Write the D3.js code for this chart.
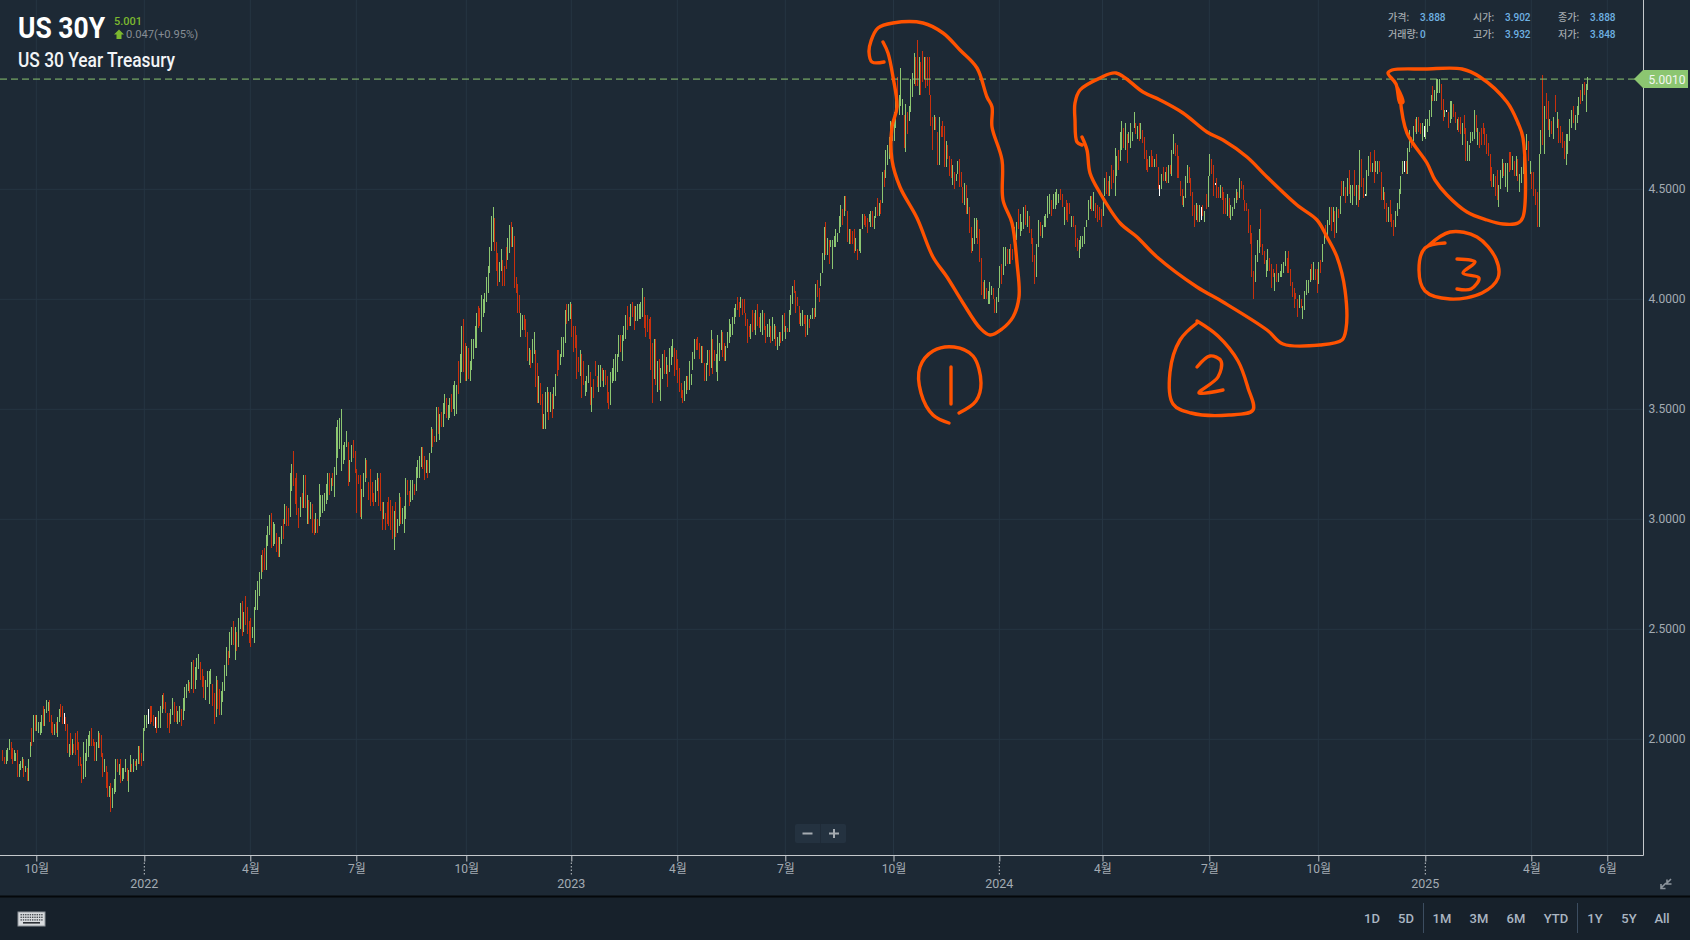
<!DOCTYPE html>
<html><head><meta charset="utf-8">
<style>
html,body{margin:0;padding:0;background:#1d2935;overflow:hidden}
svg{display:block}
text{font-family:Roboto,"Noto Sans CJK KR",sans-serif}
</style>
<script src="https://cdn.jsdelivr.net/npm/d3@7"></script>
</head><body><svg id="c" width="1690" height="940"></svg>
<script>
// each bar: [high, low, kind]  kind 1 = up, 0 = down, 2 = doji
const q3_2021=[[1.95,1.90,0],[1.92,1.89,0],[1.95,1.89,1],[1.96,1.90,1],[2.00,1.95,1],[1.99,1.91,0],[1.96,1.89,0],[1.95,1.90,1],[1.94,1.90,1],[1.95,1.83,0],[1.89,1.83,1],[1.90,1.86,1],[1.92,1.87,1],[1.91,1.83,0],[1.88,1.85,1],[1.87,1.81,0],[1.91,1.81,1],[1.99,1.92,1],[2.05,1.97,0],[2.11,1.99,1],[2.11,2.04,0]];
const q4_2021=[[2.11,2.04,1],[2.08,2.03,1],[2.08,2.02,1],[2.11,2.03,1],[2.15,2.06,0],[2.14,2.06,1],[2.18,2.12,1],[2.17,2.13,1],[2.18,2.08,0],[2.11,2.03,0],[2.08,2.02,0],[2.07,2.02,1],[2.08,2.03,0],[2.10,2.01,1],[2.14,2.08,1],[2.16,2.10,0],[2.15,2.07,0],[2.12,2.07,2],[2.10,2.04,0],[2.07,1.94,0],[1.98,1.92,1],[2.03,1.93,0],[2.00,1.93,1],[1.98,1.94,0],[2.03,1.93,0],[2.04,1.95,0],[1.99,1.88,0],[1.92,1.88,0],[1.89,1.80,0],[1.99,1.82,1],[1.94,1.83,1],[2.00,1.90,1],[2.02,1.92,1],[2.04,1.97,1],[2.05,1.97,0],[2.00,1.97,0],[1.99,1.90,0],[1.99,1.90,1],[2.04,1.96,1],[2.03,1.96,0],[2.02,1.92,0],[1.94,1.83,0],[1.91,1.85,1],[1.88,1.78,0],[1.85,1.74,0],[1.79,1.74,1],[1.80,1.67,0],[1.78,1.69,1],[1.82,1.75,1],[1.91,1.76,1],[1.91,1.85,0],[1.89,1.84,1],[1.91,1.80,0],[1.87,1.81,1],[1.87,1.82,1],[1.91,1.85,1],[1.87,1.81,0],[1.86,1.76,1],[1.93,1.85,1],[1.89,1.85,0],[1.91,1.85,1],[1.90,1.88,0],[1.91,1.86,1],[1.97,1.89,1],[1.97,1.89,0],[1.94,1.88,0],[2.05,1.90,1]];
const q1_2022=[[2.11,2.04,1],[2.11,2.05,1],[2.14,2.07,2],[2.15,2.07,0],[2.15,2.08,0],[2.11,2.06,0],[2.10,2.05,2],[2.10,2.03,0],[2.13,2.05,1],[2.15,2.05,1],[2.20,2.12,1],[2.21,2.14,0],[2.17,2.12,0],[2.12,2.05,0],[2.12,2.03,0],[2.14,2.07,1],[2.19,2.11,1],[2.17,2.08,0],[2.15,2.08,0],[2.13,2.07,1],[2.15,2.08,1],[2.14,2.06,0],[2.19,2.09,1],[2.24,2.13,1],[2.25,2.19,1],[2.27,2.22,1],[2.26,2.21,0],[2.35,2.23,1],[2.36,2.21,0],[2.33,2.23,1],[2.37,2.27,1],[2.39,2.32,1],[2.35,2.27,0],[2.32,2.24,0],[2.29,2.19,0],[2.27,2.18,1],[2.31,2.24,1],[2.31,2.16,1],[2.32,2.25,1],[2.25,2.15,0],[2.21,2.07,0],[2.29,2.10,1],[2.27,2.14,0],[2.23,2.11,0],[2.22,2.11,1],[2.26,2.17,1],[2.34,2.22,1],[2.42,2.29,1],[2.40,2.34,0],[2.49,2.37,1],[2.51,2.43,1],[2.54,2.43,0],[2.51,2.36,1],[2.49,2.40,0],[2.55,2.42,1],[2.62,2.50,1],[2.63,2.47,0],[2.58,2.49,1],[2.65,2.52,0],[2.60,2.48,0],[2.54,2.44,0]];
const q2_2022=[[2.55,2.42,0],[2.51,2.46,1],[2.60,2.44,1],[2.68,2.59,1],[2.72,2.59,1],[2.76,2.65,1],[2.84,2.73,1],[2.86,2.76,0],[2.87,2.77,0],[2.93,2.77,1],[2.97,2.88,1],[3.02,2.93,1],[3.03,2.87,0],[2.99,2.88,1],[2.98,2.89,1],[2.94,2.85,0],[2.92,2.83,0],[2.92,2.83,1],[2.97,2.89,1],[3.00,2.91,0],[3.07,2.98,1],[3.06,2.97,0],[3.05,2.97,0],[3.21,3.01,1],[3.25,3.13,1],[3.31,3.15,0],[3.19,3.07,0],[3.21,3.02,0],[3.05,2.96,0],[3.10,3.01,1],[3.12,3.05,0],[3.20,3.05,1],[3.20,3.05,0],[3.11,2.98,1],[3.09,2.98,0],[3.08,3.00,1],[3.07,2.94,0],[3.00,2.93,0],[3.03,2.94,1],[3.00,2.94,0],[3.16,2.97,1],[3.11,3.01,1],[3.11,3.03,1],[3.12,3.04,1],[3.16,3.07,1],[3.21,3.09,1],[3.21,3.11,0],[3.19,3.13,1],[3.21,3.15,0],[3.24,3.10,1],[3.42,3.20,1],[3.45,3.28,1],[3.46,3.32,1],[3.50,3.22,1],[3.34,3.25,1],[3.35,3.27,1],[3.40,3.33,1],[3.35,3.15,0],[3.27,3.17,1],[3.34,3.26,1],[3.36,3.28,0],[3.31,3.21,0]];
const q3_2022=[[3.23,3.03,0],[3.20,3.16,0],[3.20,3.01,0],[3.14,3.00,1],[3.21,3.10,1],[3.28,3.17,1],[3.27,3.19,0],[3.17,3.09,0],[3.23,3.06,0],[3.17,3.08,0],[3.12,3.06,0],[3.18,3.08,1],[3.21,3.13,1],[3.19,3.06,0],[3.21,3.04,0],[3.08,2.95,0],[3.08,3.00,1],[3.03,2.95,0],[3.08,2.98,0],[3.10,2.97,0],[3.09,2.95,0],[3.06,2.91,0],[3.04,2.86,1],[3.08,2.92,0],[3.00,2.94,1],[3.12,2.97,1],[3.10,2.98,0],[3.05,2.98,1],[3.06,2.94,1],[3.19,3.00,1],[3.18,3.11,0],[3.13,3.06,0],[3.18,3.08,1],[3.18,3.09,1],[3.16,3.11,0],[3.24,3.13,1],[3.27,3.19,1],[3.29,3.19,1],[3.33,3.24,1],[3.33,3.23,0],[3.29,3.18,0],[3.27,3.21,1],[3.27,3.19,0],[3.30,3.21,1],[3.42,3.30,1],[3.41,3.33,0],[3.38,3.35,0],[3.51,3.35,1],[3.51,3.39,0],[3.48,3.36,1],[3.49,3.42,0],[3.53,3.42,1],[3.57,3.48,1],[3.55,3.46,0],[3.52,3.45,1],[3.55,3.46,1],[3.57,3.49,0],[3.61,3.50,1],[3.63,3.47,1],[3.61,3.48,1],[3.72,3.57,0],[3.75,3.62,1],[3.88,3.67,1],[3.91,3.67,0],[3.80,3.63,0]];
const q4_2022=[[3.79,3.63,1],[3.78,3.64,0],[3.72,3.63,1],[3.82,3.68,1],[3.82,3.73,1],[3.88,3.78,1],[3.94,3.78,1],[3.97,3.87,0],[3.96,3.88,0],[4.02,3.85,1],[4.00,3.92,1],[4.03,3.94,1],[4.10,3.99,1],[4.15,4.03,1],[4.24,4.12,1],[4.38,4.22,1],[4.42,4.26,1],[4.37,4.22,0],[4.26,4.13,0],[4.21,4.06,0],[4.17,4.08,1],[4.23,4.13,1],[4.18,4.06,0],[4.15,4.06,0],[4.24,4.14,0],[4.28,4.18,1],[4.34,4.21,1],[4.35,4.24,0],[4.33,4.24,1],[4.29,4.05,0],[4.10,4.03,0],[4.07,3.94,0],[4.02,3.94,0],[3.94,3.83,1],[3.93,3.86,1],[3.93,3.86,0],[3.91,3.83,0],[3.85,3.72,0],[3.78,3.70,1],[3.77,3.69,0],[3.82,3.71,1],[3.85,3.75,1],[3.77,3.60,0],[3.71,3.53,0],[3.65,3.53,1],[3.62,3.52,0],[3.57,3.41,0],[3.48,3.41,1],[3.58,3.41,1],[3.60,3.49,1],[3.58,3.45,0],[3.58,3.49,1],[3.57,3.46,0],[3.60,3.50,1],[3.66,3.56,1],[3.77,3.65,0],[3.77,3.68,0],[3.75,3.70,1],[3.83,3.74,1],[3.83,3.74,1],[3.95,3.80,1],[3.98,3.89,0],[3.98,3.90,1],[3.99,3.91,1]];
const q1_2023=[[3.98,3.83,0],[3.88,3.76,0],[3.88,3.78,0],[3.84,3.64,0],[3.74,3.67,0],[3.77,3.65,1],[3.75,3.55,0],[3.72,3.61,0],[3.63,3.56,1],[3.65,3.58,1],[3.70,3.62,1],[3.67,3.52,0],[3.60,3.49,1],[3.64,3.55,0],[3.72,3.65,0],[3.65,3.60,0],[3.70,3.58,1],[3.70,3.60,1],[3.69,3.63,0],[3.68,3.60,1],[3.68,3.61,0],[3.65,3.53,0],[3.58,3.50,0],[3.67,3.52,1],[3.69,3.62,1],[3.73,3.63,1],[3.75,3.63,1],[3.75,3.67,1],[3.84,3.74,1],[3.84,3.76,0],[3.84,3.72,1],[3.88,3.81,1],[3.93,3.82,1],[3.97,3.86,0],[3.92,3.88,0],[3.98,3.88,1],[3.99,3.92,0],[3.97,3.86,0],[3.97,3.90,1],[3.98,3.90,1],[3.98,3.91,1],[3.99,3.91,1],[4.05,3.92,1],[4.01,3.87,0],[3.93,3.83,0],[3.93,3.85,0],[3.91,3.82,0],[3.92,3.68,0],[3.80,3.53,0],[3.82,3.64,1],[3.82,3.61,0],[3.72,3.58,1],[3.73,3.59,0],[3.69,3.54,1],[3.75,3.64,1],[3.77,3.66,0],[3.74,3.66,1],[3.70,3.60,0],[3.78,3.67,1],[3.79,3.70,1],[3.82,3.74,1],[3.78,3.65,0],[3.77,3.68,0]];
const q2_2023=[[3.73,3.62,0],[3.69,3.58,0],[3.62,3.55,0],[3.59,3.53,0],[3.63,3.54,1],[3.65,3.57,1],[3.65,3.59,0],[3.72,3.59,1],[3.66,3.61,1],[3.76,3.68,1],[3.82,3.73,1],[3.82,3.77,0],[3.83,3.77,0],[3.80,3.73,0],[3.79,3.71,1],[3.79,3.71,0],[3.71,3.63,0],[3.71,3.63,1],[3.77,3.70,1],[3.77,3.65,0],[3.86,3.69,1],[3.82,3.66,0],[3.77,3.72,0],[3.75,3.67,1],[3.84,3.63,1],[3.80,3.72,1],[3.86,3.77,1],[3.85,3.74,0],[3.80,3.72,0],[3.79,3.72,1],[3.85,3.78,1],[3.91,3.80,1],[3.89,3.83,1],[3.92,3.84,1],[3.96,3.89,1],[3.98,3.92,1],[4.01,3.95,0],[3.99,3.92,0],[4.01,3.96,1],[4.00,3.93,0],[4.00,3.94,0],[3.94,3.88,0],[3.91,3.80,0],[3.88,3.83,0],[3.89,3.82,1],[3.95,3.85,0],[3.94,3.86,0],[3.95,3.84,1],[3.98,3.88,0],[3.92,3.87,0],[3.94,3.85,1],[3.95,3.84,1],[3.94,3.86,0],[3.88,3.80,0],[3.89,3.83,1],[3.91,3.83,1],[3.88,3.80,0],[3.92,3.81,1],[3.89,3.82,1],[3.88,3.79,0],[3.83,3.77,1],[3.85,3.79,1],[3.85,3.80,0],[3.93,3.81,1],[3.94,3.85,0]];
const q3_2023=[[3.88,3.82,1],[3.87,3.85,0],[3.95,3.85,1],[4.02,3.93,1],[4.06,3.98,1],[4.09,4.03,0],[4.04,3.94,0],[4.01,3.97,0],[3.97,3.89,0],[3.94,3.88,1],[3.95,3.88,1],[3.93,3.89,0],[3.93,3.83,0],[3.93,3.84,1],[3.91,3.87,0],[3.93,3.91,1],[3.96,3.91,1],[3.96,3.91,0],[4.07,3.92,1],[4.09,4.01,0],[4.05,3.99,0],[4.12,4.06,1],[4.21,4.12,1],[4.33,4.18,1],[4.35,4.20,0],[4.28,4.20,1],[4.27,4.16,0],[4.27,4.24,1],[4.27,4.14,1],[4.29,4.24,1],[4.32,4.24,1],[4.30,4.26,1],[4.38,4.30,1],[4.43,4.33,1],[4.41,4.34,0],[4.47,4.38,1],[4.47,4.40,0],[4.40,4.26,0],[4.32,4.25,1],[4.32,4.25,0],[4.31,4.25,0],[4.32,4.21,0],[4.28,4.22,1],[4.23,4.18,0],[4.32,4.22,1],[4.32,4.21,1],[4.39,4.32,1],[4.39,4.34,0],[4.38,4.33,0],[4.37,4.30,0],[4.39,4.35,1],[4.40,4.33,1],[4.40,4.33,0],[4.38,4.32,1],[4.42,4.37,1],[4.46,4.38,0],[4.44,4.38,1],[4.45,4.39,0],[4.58,4.44,1],[4.59,4.51,0],[4.68,4.55,1],[4.70,4.61,1],[4.74,4.64,1],[4.81,4.70,1],[4.80,4.72,1]];
const q4_2023=[[4.85,4.72,1],[4.95,4.78,1],[5.01,4.90,0],[4.93,4.84,1],[5.05,4.88,1],[4.91,4.84,1],[4.84,4.69,0],[4.89,4.67,1],[4.85,4.75,0],[4.88,4.81,1],[5.00,4.85,1],[5.03,4.92,1],[5.12,4.98,1],[5.10,4.97,0],[5.18,4.97,0],[5.10,4.93,1],[5.08,4.93,0],[5.13,4.99,0],[5.10,5.00,1],[5.10,4.96,0],[5.10,4.97,0],[5.10,4.93,0],[4.93,4.79,0],[4.83,4.68,0],[4.84,4.77,1],[4.83,4.77,0],[4.76,4.61,0],[4.83,4.61,1],[4.79,4.74,0],[4.81,4.74,0],[4.79,4.60,0],[4.72,4.60,1],[4.70,4.64,0],[4.65,4.56,0],[4.64,4.55,0],[4.61,4.52,1],[4.58,4.50,0],[4.57,4.54,1],[4.63,4.57,1],[4.64,4.51,0],[4.58,4.51,0],[4.51,4.44,0],[4.53,4.43,1],[4.52,4.39,0],[4.46,4.39,1],[4.42,4.30,0],[4.33,4.21,0],[4.28,4.22,1],[4.37,4.25,1],[4.37,4.28,1],[4.36,4.25,0],[4.32,4.17,0],[4.19,4.02,0],[4.08,4.00,0],[4.09,4.00,1],[4.05,4.00,0],[4.04,3.98,1],[4.08,3.98,1],[4.06,4.02,1],[4.05,4.00,0],[4.00,3.94,0],[4.01,3.94,1],[4.05,3.99,1]];
const q1_2024=[[4.15,4.05,1],[4.16,4.07,0],[4.24,4.11,1],[4.24,4.15,1],[4.23,4.16,0],[4.23,4.16,1],[4.25,4.16,0],[4.23,4.18,0],[4.33,4.27,1],[4.35,4.27,1],[4.41,4.32,0],[4.39,4.29,1],[4.35,4.31,1],[4.42,4.32,1],[4.43,4.34,0],[4.40,4.33,1],[4.38,4.30,0],[4.32,4.25,0],[4.28,4.17,0],[4.20,4.07,0],[4.25,4.10,1],[4.36,4.24,1],[4.35,4.29,0],[4.34,4.28,1],[4.38,4.33,1],[4.39,4.33,1],[4.47,4.37,1],[4.48,4.39,1],[4.45,4.38,0],[4.48,4.41,1],[4.49,4.41,1],[4.50,4.43,1],[4.48,4.44,1],[4.50,4.45,0],[4.48,4.42,0],[4.42,4.34,1],[4.45,4.36,0],[4.44,4.35,0],[4.44,4.39,0],[4.38,4.33,1],[4.38,4.33,0],[4.34,4.24,0],[4.28,4.22,0],[4.27,4.19,1],[4.29,4.23,1],[4.29,4.24,1],[4.33,4.25,1],[4.36,4.33,1],[4.45,4.36,1],[4.47,4.41,1],[4.47,4.40,0],[4.49,4.40,1],[4.44,4.37,0],[4.43,4.35,0],[4.42,4.36,0],[4.41,4.33,0]];
const q2_2024=[[4.47,4.38,1],[4.55,4.47,1],[4.58,4.48,0],[4.54,4.47,0],[4.56,4.47,1],[4.61,4.50,0],[4.59,4.53,0],[4.69,4.47,1],[4.65,4.56,1],[4.68,4.59,0],[4.76,4.63,1],[4.81,4.68,1],[4.78,4.69,0],[4.80,4.68,1],[4.75,4.62,0],[4.76,4.71,1],[4.80,4.69,1],[4.76,4.72,1],[4.85,4.78,1],[4.80,4.75,0],[4.79,4.73,1],[4.80,4.72,0],[4.80,4.73,1],[4.77,4.71,0],[4.74,4.64,0],[4.68,4.59,0],[4.64,4.58,0],[4.65,4.60,1],[4.68,4.60,0],[4.65,4.60,0],[4.64,4.60,1],[4.66,4.60,0],[4.60,4.50,0],[4.52,4.47,2],[4.57,4.50,1],[4.60,4.54,0],[4.58,4.54,1],[4.60,4.53,0],[4.61,4.53,1],[4.61,4.57,0],[4.68,4.56,1],[4.75,4.66,1],[4.71,4.65,0],[4.70,4.55,0],[4.65,4.55,0],[4.54,4.47,0],[4.50,4.43,0],[4.47,4.42,1],[4.56,4.46,1],[4.61,4.53,1],[4.60,4.53,0],[4.55,4.47,0],[4.49,4.38,0],[4.43,4.33,0],[4.44,4.36,1],[4.43,4.35,0],[4.43,4.35,1],[4.42,4.36,2],[4.43,4.38,0],[4.40,4.35,1],[4.48,4.41,0],[4.56,4.42,1]];
const q3_2024=[[4.66,4.56,1],[4.64,4.57,0],[4.61,4.47,0],[4.53,4.52,2],[4.55,4.46,0],[4.51,4.46,0],[4.52,4.46,1],[4.51,4.45,0],[4.49,4.39,0],[4.46,4.39,0],[4.48,4.38,1],[4.46,4.37,0],[4.43,4.36,1],[4.42,4.38,1],[4.46,4.41,1],[4.50,4.44,1],[4.49,4.45,0],[4.55,4.46,1],[4.54,4.50,0],[4.52,4.45,0],[4.45,4.40,0],[4.44,4.40,0],[4.41,4.30,0],[4.34,4.25,0],[4.30,4.10,0],[4.13,4.00,0],[4.20,4.08,1],[4.27,4.17,1],[4.32,4.21,1],[4.41,4.24,0],[4.25,4.20,0],[4.22,4.16,0],[4.18,4.10,1],[4.23,4.13,1],[4.19,4.13,0],[4.16,4.05,0],[4.14,4.10,0],[4.12,4.04,1],[4.16,4.08,0],[4.12,4.08,1],[4.13,4.10,1],[4.16,4.10,1],[4.17,4.12,1],[4.22,4.15,1],[4.19,4.12,0],[4.22,4.12,0],[4.14,4.06,0],[4.08,4.01,0],[4.05,3.96,0],[4.03,4.00,0],[4.00,3.92,0],[4.02,3.96,1],[4.00,3.96,0],[3.97,3.91,1],[4.04,3.95,1],[4.09,4.02,1],[4.09,4.03,1],[4.14,4.08,1],[4.16,4.09,0],[4.17,4.09,1],[4.14,4.09,0],[4.14,4.03,0]];
const q4_2024=[[4.17,4.07,1],[4.18,4.12,0],[4.25,4.17,1],[4.31,4.25,1],[4.34,4.28,0],[4.36,4.29,1],[4.42,4.34,1],[4.42,4.31,0],[4.42,4.35,1],[4.40,4.28,0],[4.42,4.30,1],[4.41,4.37,0],[4.47,4.39,1],[4.54,4.47,0],[4.54,4.47,1],[4.51,4.44,0],[4.55,4.47,1],[4.59,4.48,0],[4.52,4.44,1],[4.52,4.43,1],[4.59,4.47,0],[4.52,4.43,1],[4.52,4.42,0],[4.68,4.45,1],[4.64,4.51,0],[4.55,4.46,0],[4.48,4.47,2],[4.59,4.47,1],[4.65,4.56,1],[4.67,4.58,0],[4.62,4.58,1],[4.68,4.53,0],[4.63,4.58,1],[4.63,4.57,1],[4.63,4.58,0],[4.58,4.45,0],[4.51,4.45,1],[4.49,4.41,0],[4.44,4.35,0],[4.42,4.35,1],[4.45,4.35,0],[4.39,4.33,0],[4.36,4.29,0],[4.40,4.33,1],[4.44,4.38,1],[4.50,4.41,1],[4.56,4.48,1],[4.63,4.57,1],[4.63,4.58,2],[4.63,4.57,0],[4.69,4.57,1],[4.77,4.67,1],[4.74,4.69,0],[4.79,4.72,1],[4.82,4.76,0],[4.83,4.75,1],[4.83,4.76,0],[4.80,4.75,0],[4.80,4.72,1],[4.79,4.74,2]];
const q1_2025=[[4.82,4.73,1],[4.82,4.76,1],[4.86,4.79,1],[4.93,4.83,1],[4.97,4.90,0],[4.95,4.90,1],[5.00,4.90,1],[5.00,4.94,1],[5.00,4.94,1],[4.98,4.86,0],[4.91,4.81,0],[4.86,4.83,1],[4.86,4.85,2],[4.85,4.78,0],[4.90,4.80,1],[4.90,4.82,1],[4.89,4.83,0],[4.85,4.80,0],[4.82,4.77,1],[4.83,4.76,0],[4.83,4.75,0],[4.80,4.70,1],[4.84,4.75,0],[4.78,4.63,0],[4.72,4.63,1],[4.70,4.63,1],[4.76,4.71,1],[4.76,4.72,1],[4.86,4.73,1],[4.84,4.76,0],[4.78,4.70,1],[4.76,4.69,0],[4.78,4.70,0],[4.80,4.75,0],[4.78,4.70,0],[4.75,4.66,0],[4.71,4.65,0],[4.66,4.54,0],[4.60,4.51,0],[4.57,4.51,1],[4.56,4.47,0],[4.59,4.45,0],[4.52,4.42,1],[4.59,4.50,1],[4.64,4.55,1],[4.62,4.56,0],[4.62,4.51,1],[4.62,4.49,1],[4.67,4.58,0],[4.67,4.59,0],[4.65,4.59,1],[4.63,4.56,0],[4.65,4.56,1],[4.64,4.54,0],[4.57,4.49,1],[4.60,4.53,1],[4.65,4.57,1],[4.71,4.63,1],[4.75,4.68,1],[4.72,4.63,0],[4.63,4.57,1]];
const q2_2025=[[4.58,4.50,0],[4.58,4.47,0],[4.50,4.43,0],[4.49,4.33,0],[4.66,4.33,1],[4.77,4.66,1],[5.02,4.70,0],[4.88,4.66,1],[4.94,4.82,0],[4.90,4.77,0],[4.82,4.74,1],[4.81,4.75,0],[4.83,4.73,1],[4.93,4.85,0],[4.85,4.78,1],[4.82,4.71,0],[4.79,4.71,0],[4.76,4.69,0],[4.72,4.64,0],[4.75,4.61,1],[4.75,4.66,1],[4.82,4.72,1],[4.86,4.78,1],[4.88,4.80,0],[4.84,4.77,1],[4.88,4.80,1],[4.92,4.84,1],[4.95,4.89,0],[4.98,4.90,1],[4.99,4.93,0],[4.98,4.85,1],[5.01,4.95,1]];

const quarters=[q3_2021,q4_2021,q1_2022,q2_2022,q3_2022,q4_2022,q1_2023,q2_2023,q3_2023,q4_2023,q1_2024,q2_2024,q3_2024,q4_2024,q1_2025,q2_2025];
const tickLabels=["10월","2022","4월","7월","10월","2023","4월","7월","10월","2024","4월","7월","10월","2025","4월","6월"];
const yTicks=[2.0,2.5,3.0,3.5,4.0,4.5];
const lastPrice=5.001;
const ranges=["1D","5D","1M","3M","6M","YTD","1Y","5Y","All"];

// hand-drawn circles
const sketch1=[[884,62],[872,62],[869,52],[871,41],[878,28],[893,23],[923,23],[943,33],[960,50],[977,68],[987,97],[992,107],[992,127],[1002,160],[1003,200],[1012,223],[1017,263],[1019,297],[1013,317],[1002,329],[990,335],[980,328],[963,303],[947,277],[933,257],[917,218],[900,187],[892,160],[892,127],[897,107],[893,77],[888,53],[883,42]];
const sketch2=[[1082,137],[1087,150],[1090,173],[1100,193],[1120,223],[1137,237],[1157,257],[1197,287],[1223,302],[1267,330],[1283,344],[1320,345],[1342,340],[1346,329],[1345,290],[1337,257],[1327,237],[1317,220],[1297,205],[1267,177],[1247,157],[1223,140],[1207,132],[1183,113],[1160,100],[1143,92],[1116,73],[1100,78],[1080,90],[1075,103],[1075,120],[1077,142],[1082,145]];
const sketch3=[[1397,87],[1403,102],[1400,103],[1396,84],[1388,73],[1392,70],[1425,69],[1462,69],[1480,77],[1507,102],[1518,123],[1523,138],[1523,217],[1518,223],[1503,224],[1487,220],[1467,212],[1447,195],[1435,180],[1427,163],[1407,133],[1400,97]];
const digit1=[[949,423],[933,415],[921,393],[920,367],[933,351],[954,347],[973,356],[981,383],[976,401],[959,413]];
const digit1b=[[951,367],[951,404]];
const digit2=[[1197,321],[1218,336],[1238,361],[1248,388],[1253,410],[1229,415],[1191,413],[1173,404],[1170,372],[1180,340],[1197,323]];
const digit2b=[[1197,367],[1210,356],[1221,361],[1218,377],[1199,393],[1223,390]];
const digit3=[[1428,246],[1450,232],[1477,237],[1496,259],[1498,278],[1482,293],[1450,299],[1425,291],[1419,270],[1425,248],[1445,243]];
const digit3b=[[1457,259],[1475,262],[1463,273],[1479,278],[1471,289],[1457,289]];

const bars=quarters.flat();
let acc=0; const tickIdx=quarters.map(q=>{acc+=q.length;return acc;});
tickIdx.length=15;
tickIdx.push(tickIdx[14]+42);
const tickPx=[36.3,144.3,250.3,356.3,466.3,571.3,677.3,785.3,893.5,999.3,1102.5,1209.3,1318.3,1425.3,1531.3,1607.3];
const x=d3.scaleLinear().domain(tickIdx).range(tickPx);
const y=d3.scaleLinear().domain([2,5]).range([739.3,79.3]);

const svg=d3.select("#c");
const axisRight=1643.5, axisY=855.5;
const GRID="#263543",GREEN="#8cc671",RED="#c9300c",ORANGE="#ff5200",TXT="#a3abb3";

svg.append("rect").attr("width",1690).attr("height",940).attr("fill","#1d2935");
// grid
const gg=svg.append("g");
gg.selectAll("line.h").data(yTicks).join("line").attr("x1",0).attr("x2",axisRight).attr("y1",d=>y(d)).attr("y2",d=>y(d)).attr("stroke",GRID);
gg.selectAll("line.v").data(tickIdx).join("line").attr("x1",d=>x(d)).attr("x2",d=>x(d)).attr("y1",0).attr("y2",axisY).attr("stroke",GRID);

// bars
svg.append("g").attr("shape-rendering","crispEdges").selectAll("rect").data(bars).join("rect")
 .attr("x",(d,i)=>Math.round(x(i)))
 .attr("width",1.3)
 .attr("y",d=>y(d[0]))
 .attr("height",d=>Math.max(1,y(d[1])-y(d[0])))
 .attr("fill",d=>d[2]===1?GREEN:d[2]===0?RED:"#ffffff");

// last price line
svg.append("line").attr("x1",0).attr("x2",1636).attr("y1",y(lastPrice)).attr("y2",y(lastPrice))
 .attr("stroke",GREEN).attr("stroke-width",1).attr("stroke-dasharray","7 4");

// axes
const xAxis=d3.axisBottom(x).tickValues(tickIdx).tickSize(6).tickFormat((d,i)=>/^\d{4}$/.test(tickLabels[i])?"":tickLabels[i]);
const gx=svg.append("g").attr("transform",`translate(0,${axisY})`).call(xAxis);
gx.select(".domain").attr("stroke","#c4c8cc").attr("d",`M0,0H${axisRight}`);
gx.selectAll(".tick line").attr("stroke","#c4c8cc");
gx.selectAll(".tick text").attr("fill",TXT).attr("font-size",12).attr("y",9).attr("dy","0.71em").attr("font-family",'Roboto,"Noto Sans CJK KR",sans-serif');
tickIdx.forEach((t,i)=>{ if(/^\d{4}$/.test(tickLabels[i])){
  svg.append("line").attr("x1",x(t)).attr("x2",x(t)).attr("y1",axisY+7).attr("y2",axisY+19).attr("stroke","#c4c8cc").attr("stroke-dasharray","1.5 2");
  svg.append("text").attr("x",x(t)).attr("y",888).attr("text-anchor","middle").attr("fill",TXT).attr("font-size",12.5).text(tickLabels[i]);
}});
const yAxis=d3.axisRight(y).tickValues(yTicks).tickSize(0).tickPadding(5).tickFormat(d3.format(".4f"));
const gy=svg.append("g").attr("transform",`translate(${axisRight},0)`).call(yAxis);
gy.select(".domain").attr("stroke","#c4c8cc").attr("d",`M0,0V${axisY}`);
gy.selectAll(".tick text").attr("fill",TXT).attr("font-size",12).attr("y",-1).attr("font-family",'Roboto,sans-serif');

// last price badge
const by=y(lastPrice);
svg.append("path").attr("d",d3.line()([[1634,by],[1643,by-9],[1688,by-9],[1688,by+9],[1643,by+9]])+"Z").attr("fill",GREEN);
svg.append("text").attr("x",1667).attr("y",by+4.5).attr("text-anchor","middle").attr("fill","#f2f6ef").attr("font-size",12).text(d3.format(".4f")(lastPrice));

// hand-drawn
const sk=d3.line().curve(d3.curveCatmullRom.alpha(.5));
[sketch1,sketch2,sketch3,digit1,digit1b,digit2,digit2b,digit3,digit3b].forEach(s=>{
 svg.append("path").attr("d",sk(s)).attr("fill","none").attr("stroke",ORANGE).attr("stroke-width",3.4).attr("stroke-linecap","round").attr("stroke-linejoin","round");
});

// header
svg.append("text").attr("x",18).attr("y",38).attr("fill","#fff").attr("font-size",30).attr("font-weight",700).attr("textLength",87).attr("lengthAdjust","spacingAndGlyphs").text("US 30Y");
svg.append("text").attr("x",18).attr("y",67).attr("fill","#f2f4f6").attr("font-size",20).attr("font-weight",500).attr("textLength",157).attr("lengthAdjust","spacingAndGlyphs").text("US 30 Year Treasury");
svg.append("text").attr("x",114).attr("y",25).attr("fill","#7cb82f").attr("font-size",11).attr("font-weight",500).text("5.001");
svg.append("path").attr("d","M119,29.5L124,34.5H121.5V39H116.5V34.5H114Z").attr("fill","#7cb82f");
svg.append("text").attr("x",126).attr("y",38).attr("fill","#868d94").attr("font-size",11.2).text("0.047(+0.95%)");

// price info
const info=[["가격:",1388,17,"3.888",1420],["시가:",1473,17,"3.902",1505],["종가:",1558,17,"3.888",1590],["거래량:",1388,34,"0",1420],["고가:",1473,34,"3.932",1505],["저가:",1558,34,"3.848",1590]];
info.forEach(r=>{
 svg.append("text").attr("x",r[1]).attr("y",r[2]+4).attr("fill","#a4a9ae").attr("font-size",10).attr("font-weight",500).text(r[0]);
 svg.append("text").attr("x",r[4]).attr("y",r[2]+4).attr("fill","#6fb1e2").attr("font-size",10).attr("font-weight",500).text(r[3]);
});

// zoom control
svg.append("rect").attr("x",795).attr("y",824).attr("width",51).attr("height",19).attr("rx",2).attr("fill","#243240");
svg.append("line").attr("x1",820.5).attr("x2",820.5).attr("y1",824).attr("y2",843).attr("stroke","#1f2b38");
svg.append("path").attr("d","M802.5,833.5H812.5M829,833.5H839M834,829V838").attr("stroke","#a5abb1").attr("stroke-width",2);

// compress icon
svg.append("path").attr("d","M1661,888L1666,883M1661,884V888.5H1665.5M1671,879L1666,884M1667,879.5V884H1671.5").attr("stroke","#8d959d").attr("stroke-width",1.6).attr("fill","none");

// footer
svg.append("rect").attr("y",896).attr("width",1690).attr("height",44).attr("fill","#17212b");
svg.append("rect").attr("y",895.5).attr("width",1690).attr("height",2).attr("fill","#05080b");
const rangeX=[1372,1406,1442,1479,1516,1556,1595,1629,1662];
svg.append("g").selectAll("text").data(ranges).join("text").attr("x",(d,i)=>rangeX[i]).attr("y",923).attr("text-anchor","middle").attr("fill","#aab6c2").attr("font-size",13).attr("font-weight",500).text(d=>d);
[1423.5,1577.5].forEach(v=>svg.append("line").attr("x1",v).attr("x2",v).attr("y1",903).attr("y2",933).attr("stroke","#3c4d60"));
// keyboard icon
svg.append("rect").attr("x",18).attr("y",912).attr("width",27).attr("height",14).attr("fill","#d8dbde").attr("stroke","#8f959b");
const kb=svg.append("g");
d3.range(3).forEach(r=>d3.range(10).forEach(c=>kb.append("rect").attr("x",20.5+c*2.3).attr("y",914+r*2.6).attr("width",1.4).attr("height",1.4).attr("fill","#4a4f55")));
kb.append("rect").attr("x",23).attr("y",922).attr("width",17).attr("height",1.6).attr("fill","#2d3136");
</script></body></html>
